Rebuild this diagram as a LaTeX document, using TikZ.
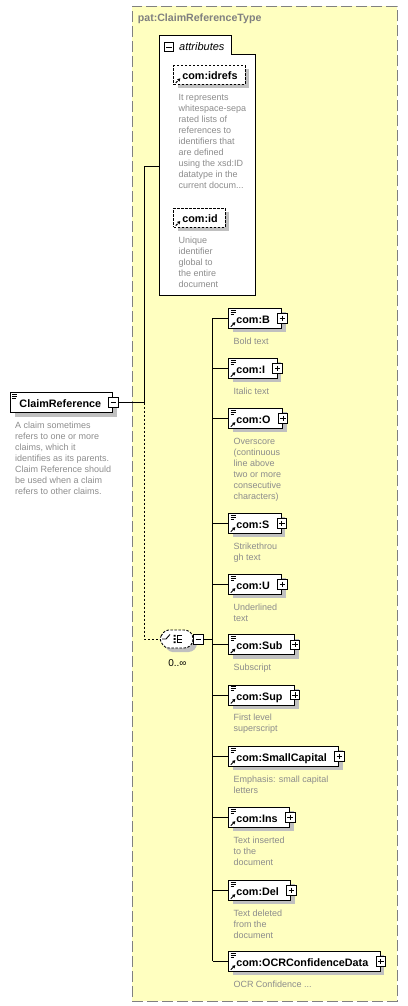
\documentclass[tikz,border=0pt]{standalone}
\usepackage{fontspec}
\setmainfont{Liberation Sans}
\usetikzlibrary{shadows,arrows.meta}
\definecolor{boxyellow}{RGB}{255,255,192}
\definecolor{framegray}{RGB}{128,128,128}
\definecolor{descgray}{RGB}{140,140,140}
\definecolor{shadowgray}{RGB}{192,192,192}
\newcommand\namefont{\fontsize{10.8}{13}\selectfont\bfseries}
\newcommand\descfont{\fontsize{9}{11}\selectfont}
\newcommand\firststrut{\rule{0pt}{8pt}}
\newcommand\docicon{\draw[line width=0.8pt]
  ([shift={(1.7pt,-1.8pt)}]path picture bounding box.north west) -- ++(5pt,0pt)
  ([shift={(1.7pt,-3.8pt)}]path picture bounding box.north west) -- ++(5pt,0pt)
  ([shift={(1.7pt,-5.8pt)}]path picture bounding box.north west) -- ++(3.5pt,0pt);}
\newcommand\reficon{\draw[line width=1pt,-{Triangle[length=2.8pt,width=3.2pt]}]
  ([shift={(2pt,1.6pt)}]path picture bounding box.south west) -- ++(4.5pt,4.5pt);}
\tikzset{
  conn/.style={line width=1pt, black},
  dconn/.style={conn, dash pattern=on 2.5pt off 1.5pt},
  sh/.style={drop shadow={shadow xshift=4pt, shadow yshift=-4pt, fill=shadowgray, opacity=1}},
  namebox/.style={draw, fill=white, line width=1pt, inner xsep=0pt, inner ysep=0pt,
    minimum height=20pt, text height=12pt, text depth=2pt, font=\namefont, anchor=west, sh},
  elembox/.style={namebox, path picture={\docicon\reficon}},
  crbox/.style={namebox, path picture={\docicon}},
  attrbox/.style={namebox, minimum height=19pt, dash pattern=on 2.5pt off 1.5pt, path picture={\reficon}},
  plusbox/.style={draw, fill=white, line width=0.8pt, minimum size=9.5pt, inner sep=0pt,
    path picture={\draw[line width=0.8pt]
      ([xshift=2pt]path picture bounding box.west) -- ([xshift=-2pt]path picture bounding box.east)
      ([yshift=-2pt]path picture bounding box.north) -- ([yshift=2pt]path picture bounding box.south);}},
  minusbox/.style={draw, fill=white, line width=0.8pt, minimum size=9.5pt, inner sep=0pt,
    path picture={\draw[line width=0.8pt]
      ([xshift=2pt]path picture bounding box.west) -- ([xshift=-2pt]path picture bounding box.east);}},
  desc/.style={anchor=north west, align=left, inner sep=0pt, font=\descfont, text=descgray},
  container/.style={draw=framegray, fill=boxyellow, line width=1.2pt, dash pattern=on 11pt off 4pt,
    anchor=north west, inner sep=0pt},
  seqshape/.style={draw, fill=white, line width=0.9pt, dash pattern=on 2.5pt off 1.5pt, rounded corners=3.5pt},
  seqshadow/.style={fill=shadowgray, draw=none, rounded corners=3.5pt},
  icon/.style={line width=0.9pt, black}
}
\newcommand\elem[4]{%
  \node[elembox] (#1) at (228.3,#2) {\hspace*{7.5pt}#3\hspace*{12pt}};
  \node[plusbox] (#1p) at (#1.east) {};
  \node[desc] (#1d) at (233.3,#2+17.7) {\firststrut #4};
  \draw[conn] (trunk |- #1.west) -- (#1.west);
}
\begin{document}
\begin{tikzpicture}[x=1pt,y=-1pt]
\useasboundingbox (0,0) rectangle (407,1006);
% container
\node[container, minimum width=265pt, minimum height=995pt] (frame) at (131.7,5.7) {};
\node[anchor=base west, inner sep=0pt, font=\fontsize{10.6}{12}\selectfont\bfseries, text=framegray]
  (title) at (137.7,21.7) {pat:ClaimReferenceType};
% attributes group
\draw[fill=white, line width=1pt] (159.3,36) -- (231.7,36) -- (231.7,55) -- (255.7,55)
  -- (255.7,295.3) -- (159.3,295.3) -- cycle;
\node[minusbox] (attrm) at (169,47) {};
\node[anchor=base west, inner sep=0pt, font=\fontsize{11}{13}\selectfont\itshape] (attrlbl) at (179,50.7) {attributes};
\coordinate (attrin) at (159.3,166);
\node[attrbox] (idrefs) at (173.3,75) {\hspace*{8.5pt}com:idrefs\hspace*{7.5pt}};
\node[desc] (idrefsd) at (178.3,92.5) {\firststrut It represents\\whitespace-sepa\\rated lists of\\references to\\identifiers that\\are defined\\using the xsd:ID\\datatype in the\\current docum...};
\node[attrbox] (id) at (173.3,217.7) {\hspace*{8.5pt}com:id\hspace*{7.5pt}};
\node[desc] (idd) at (178.3,234.8) {\firststrut Unique\\identifier\\global to\\the entire\\document};
% root element
\node[crbox] (CR) at (10,402.5) {\hspace*{9pt}ClaimReference\hspace*{11.7pt}};
\node[minusbox] (CRm) at (CR.east) {};
\node[desc] (CRd) at (15,419.8) {\firststrut A claim sometimes\\refers to one or more\\claims, which it\\identifies as its parents.\\Claim Reference should\\be used when a claim\\refers to other claims.};
\coordinate (j1) at (144.3,402.5);
\draw[conn] (CRm.east) -- (j1);
\draw[conn] (j1) |- (attrin);
% sequence compositor
\node[minimum width=34pt, minimum height=18pt, inner sep=0pt] (seq) at (176.3,639) {};
\draw[seqshadow] (163.3,643) -- (169,634) -- (192,634) -- (197,639) -- (197,647) -- (192,652) -- (169,652) -- cycle;
\draw[seqshape] (seq.west) -- (165,630) -- (188,630) -- (193,635) -- (193,643) -- (188,648) -- (165,648) -- cycle;
\draw[icon] (162,639) -- (166,639) -- (170,634.5);
\draw[icon] (177.3,635.2) -- (177.3,642.8);
\draw[icon] (177.3,635.7) -- (182,635.7) (177.3,639) -- (182,639) (177.3,642.3) -- (182,642.3);
\fill (173.6,634.8) rectangle (175.6,636.6) (173.6,638.1) rectangle (175.6,639.9) (173.6,641.4) rectangle (175.6,643.2);
\node[minusbox] (seqm) at (198.3,639.3) {};
\node[font=\fontsize{10}{12}\selectfont, inner sep=0pt] (card) at (177.5,663.3) {0..∞};
\draw[dconn] (j1) |- (seq.west);
% children
\coordinate (trunk) at (212.5,318.3);
\elem{B}{318.3}{com:B}{Bold text}
\elem{I}{368.3}{com:I}{Italic text}
\elem{O}{418.3}{com:O}{Overscore\\(continuous\\line above\\two or more\\consecutive\\characters)}
\elem{S}{523.3}{com:S}{Strikethrou\\gh text}
\elem{U}{584.3}{com:U}{Underlined\\text}
\elem{Sub}{644.7}{com:Sub}{Subscript}
\elem{Sup}{695}{com:Sup}{First level\\superscript}
\elem{SC}{756.3}{com:SmallCapital}{Emphasis: small capital\\letters}
\elem{Ins}{817.3}{com:Ins}{Text inserted\\to the\\document}
\elem{Del}{890.3}{com:Del}{Text deleted\\from the\\document}
\elem{OCR}{961.3}{com:OCRConfidenceData}{OCR Confidence ...}
\draw[conn] (trunk |- B.west) -- (trunk |- OCR.west);
\draw[conn] (seqm.east) -- (seqm.east -| trunk);
\end{tikzpicture}
\end{document}
